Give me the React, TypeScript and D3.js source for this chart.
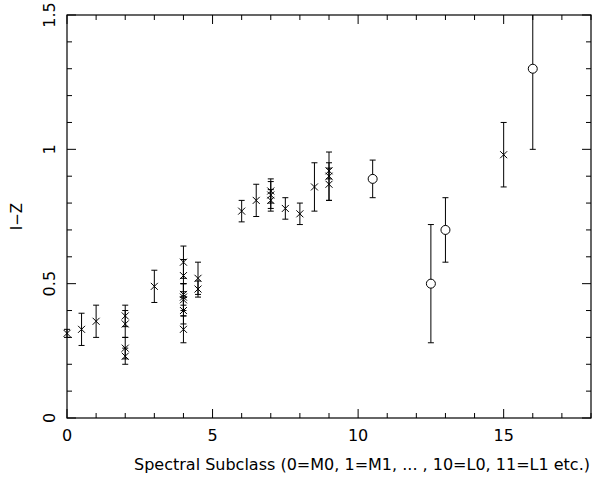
import React from 'react';
import * as d3 from 'd3';

// crosses: subclass, I-Z colour, 1-sigma error
const crossSubclass = [0, 0.5, 1, 2, 2, 2, 2, 3, 4, 4, 4, 4, 4, 4, 4, 4.5, 4.5, 6, 6.5, 7, 7, 7, 7.5, 8, 8.5, 9, 9, 9, 15];
const crossColour = [0.315, 0.33, 0.36, 0.38, 0.35, 0.26, 0.23, 0.49, 0.58, 0.53, 0.46, 0.45, 0.44, 0.4, 0.33, 0.52, 0.48, 0.77, 0.81, 0.845, 0.83, 0.81, 0.78, 0.76, 0.86, 0.92, 0.9, 0.87, 0.98];
const crossError = [0.015, 0.06, 0.06, 0.04, 0.05, 0.04, 0.03, 0.06, 0.06, 0.06, 0.04, 0.05, 0.06, 0.05, 0.05, 0.06, 0.03, 0.04, 0.06, 0.045, 0.05, 0.04, 0.04, 0.04, 0.09, 0.03, 0.09, 0.06, 0.12];

// circles
const circleSubclass = [10.5, 12.5, 13, 16];
const circleColour = [0.89, 0.5, 0.7, 1.3];
const circleError = [0.07, 0.22, 0.12, 0.3];

const xMajor = [0, 5, 10, 15];
const yMajor = [0, 0.5, 1, 1.5];
const yLabels = ['0', '0.5', '1', '1.5'];

const W = 599;
const H = 486;
const margin = { top: 15, right: 8, bottom: 68, left: 67 };
const FONT = '"DejaVu Sans", "Liberation Sans", sans-serif';

export default function App() {
  const x = d3.scaleLinear().domain([0, 18]).range([margin.left, W - margin.right]);
  const y = d3.scaleLinear().domain([0, 1.5]).range([H - margin.bottom, margin.top]);
  const x0 = x(0), x1 = x(18), y0 = y(0), y1 = y(1.5);

  const xMinor = d3.range(0, 19, 1);
  const yMinor = d3.range(0, 16, 1).map(d => d / 10);
  const cap = 3;

  const errorBar = (sx: number, c: number, e: number, key: string) => {
    const px = x(sx);
    const top = y(c + e);
    const bot = y(c - e);
    return (
      <g key={key}>
        <line x1={px} x2={px} y1={top} y2={bot} />
        <line x1={px - cap} x2={px + cap} y1={top} y2={top} />
        <line x1={px - cap} x2={px + cap} y1={bot} y2={bot} />
      </g>
    );
  };

  return (
    <svg width={W} height={H} style={{ position: 'absolute', left: 0, top: 0, background: '#fff' }}>
      <defs>
        <clipPath id="plotArea">
          <rect x={x0 - 5} y={y1} width={x1 - x0 + 5} height={y0 - y1} />
        </clipPath>
      </defs>

      {/* frame */}
      <rect x={x0} y={y1} width={x1 - x0} height={y0 - y1} fill="none" stroke="#000" strokeWidth={1.2} />

      {/* ticks on all four sides, inward */}
      <g stroke="#000" strokeWidth={1}>
        {xMinor.map(t => {
          const len = t % 5 === 0 ? 9 : 5;
          return (
            <g key={`xt${t}`}>
              <line x1={x(t)} x2={x(t)} y1={y0} y2={y0 - len} />
              <line x1={x(t)} x2={x(t)} y1={y1} y2={y1 + len} />
            </g>
          );
        })}
        {yMinor.map((t, i) => {
          const len = i % 5 === 0 ? 9 : 5;
          return (
            <g key={`yt${i}`}>
              <line x1={x0} x2={x0 + len} y1={y(t)} y2={y(t)} />
              <line x1={x1} x2={x1 - len} y1={y(t)} y2={y(t)} />
            </g>
          );
        })}
      </g>

      {/* tick labels */}
      <g fontFamily={FONT} fontSize={16} fill="#000">
        {xMajor.map(t => (
          <text key={`xl${t}`} x={x(t)} y={y0 + 23} textAnchor="middle">{t}</text>
        ))}
        {yMajor.map((t, i) => (
          <text key={`yl${t}`} transform={`translate(${x0 - 12},${y(t)}) rotate(-90)`} textAnchor="middle">{yLabels[i]}</text>
        ))}
      </g>

      {/* axis titles */}
      <text x={362} y={H - 16} textAnchor="middle" fontFamily={FONT} fontSize={15} fill="#000"
        textLength={456} lengthAdjust="spacingAndGlyphs">
        Spectral Subclass (0=M0, 1=M1, ... , 10=L0, 11=L1 etc.)
      </text>
      <text transform={`translate(22,${(y0 + y1) / 2}) rotate(-90)`} textAnchor="middle" fontFamily={FONT} fontSize={15} fill="#000">
        I−Z
      </text>

      {/* error bars clipped to the box, markers drawn in full */}
      <g clipPath="url(#plotArea)" stroke="#000" strokeWidth={1} fill="none">
        {crossSubclass.map((s, i) => errorBar(s, crossColour[i], crossError[i], `ce${i}`))}
        {circleSubclass.map((s, i) => errorBar(s, circleColour[i], circleError[i], `oe${i}`))}
      </g>
      <g stroke="#000" strokeWidth={1} fill="none">
        {crossSubclass.map((s, i) => {
          const px = x(s), py = y(crossColour[i]), r = 3.5;
          return (
            <path key={`cm${i}`} d={`M${px - r},${py - r}L${px + r},${py + r}M${px - r},${py + r}L${px + r},${py - r}`} />
          );
        })}
        {circleSubclass.map((s, i) => (
          <circle key={`om${i}`} cx={x(s)} cy={y(circleColour[i])} r={4.5} fill="#fff" />
        ))}
      </g>
    </svg>
  );
}
